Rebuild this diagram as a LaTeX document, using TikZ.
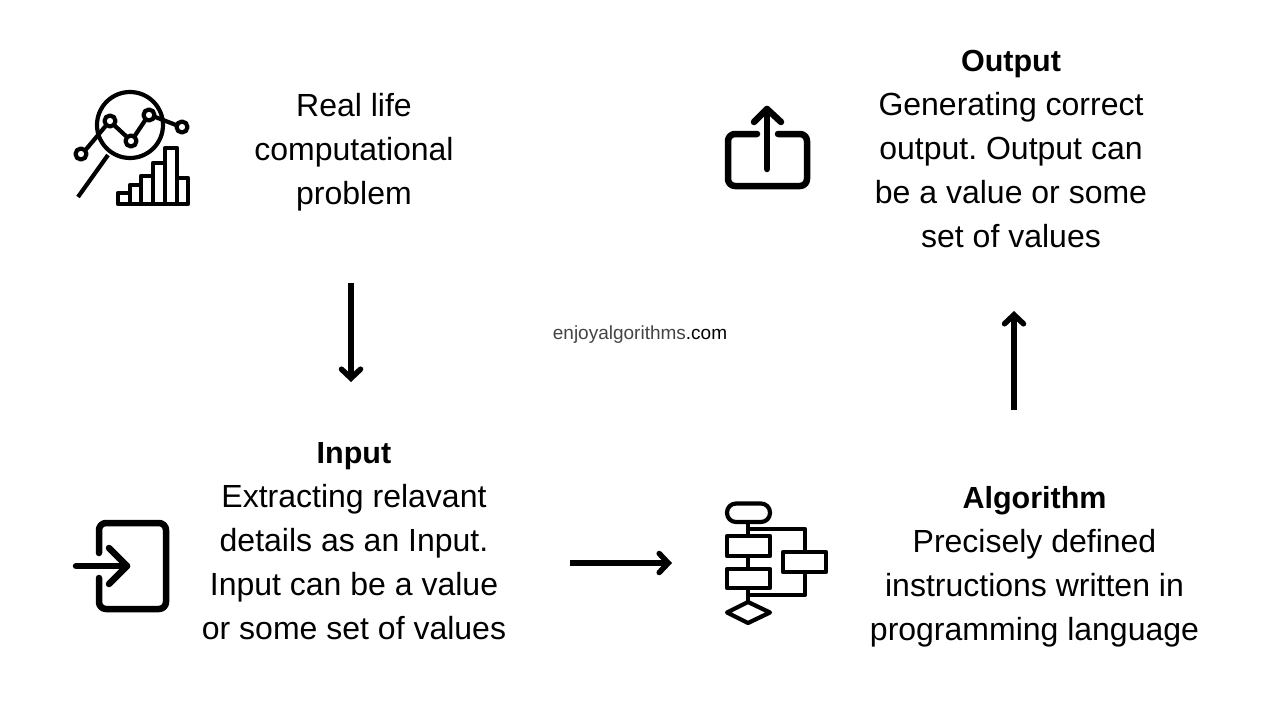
\documentclass[tikz,border=0pt]{standalone}
\usepackage{fontspec}
\usetikzlibrary{arrows.meta}
\setmainfont{Liberation Sans}
\definecolor{markgray}{HTML}{444444}
\newcommand{\blockhead}[1]{{\fontsize{30.5}{44}\selectfont\bfseries #1}}
\tikzset{
    blocktext/.style={align=center,inner sep=0pt,font=\fontsize{32}{44}\selectfont\frenchspacing},
    flowarrow/.style={line width=5.5pt,-{Straight Barb[length=9pt,width=19pt,line width=5.5pt,line cap=round]}},
    iconthin/.style={line width=4.2pt,line join=round},
    iconthick/.style={line width=6.5pt,line cap=round,line join=round}
}
\begin{document}
\begin{tikzpicture}[x=1pt,y=-1pt]
            \useasboundingbox (0,0) rectangle (1280,720);
            \fill[white] (0,0) rectangle (1280,720);
            % texts
            \node[blocktext] (problem) at (354,152) {Real life\\computational\\problem};
            \node[blocktext] (output) at (1011,149.5) {\blockhead{Output}\\Generating correct\\output. Output can\\be a value or some\\set of values};
            \node[blocktext] (input) at (354,541.5) {\blockhead{Input}\\Extracting relavant\\details as an Input.\\Input can be a value\\or some set of values};
            \node[blocktext] (algorithm) at (1034.5,566.5) {\blockhead{Algorithm}\\Precisely defined\\instructions written in\\programming language};
            \node[font=\fontsize{19}{22}\selectfont,inner sep=0pt] (site) at (640,335) {\textcolor{markgray}{enjoyalgorithms}.com};
            % arrows
            \coordinate (problemout) at (351,283);
            \coordinate (inputin) at (351,382);
            \coordinate (inputout) at (570,563);
            \coordinate (algorithmin) at (672,563);
            \coordinate (algorithmout) at (1014,410);
            \coordinate (outputin) at (1014,311);
            \draw[flowarrow] (problemout) -- (inputin);
            \draw[flowarrow] (inputout) -- (algorithmin);
            \draw[flowarrow] (algorithmout) -- (outputin);
            % magnifier and chart icon
            \draw[iconthin] (130,125) circle [radius=33];
            \draw[iconthin] (108,155) -- (78,197);
            \draw[iconthin] (85.5,150) -- (106.5,125);
            \draw[iconthin] (114,125) -- (127.5,137.5);
            \draw[iconthin] (134,137) -- (146,119);
            \draw[iconthin] (154,116.5) -- (176,125);
            \draw[iconthin] (81,154) circle [radius=5.5];
            \draw[iconthin] (110,121) circle [radius=5.5];
            \draw[iconthin] (131,141) circle [radius=5.5];
            \draw[iconthin] (149,115) circle [radius=5.5];
            \draw[iconthin] (182,127) circle [radius=5.5];
            \draw[iconthin] (118,204) rectangle (130,193);
            \draw[iconthin] (130,204) rectangle (141,185);
            \draw[iconthin] (141,204) rectangle (153,176);
            \draw[iconthin] (153,204) rectangle (165,163);
            \draw[iconthin] (165,204) rectangle (177,148);
            \draw[iconthin] (177,204) rectangle (188,178);
            % output icon
            \draw[iconthick,rounded corners=7pt] (757,134) -- (728,134) -- (728,186) -- (807,186) -- (807,134) -- (778,134);
            \draw[iconthick] (767,169) -- (767,109);
            \draw[iconthick] (754,122) -- (767,109) -- (781,122);
            % input icon
            \draw[iconthick,rounded corners=7pt] (99,553) -- (99,523) -- (166,523) -- (166,609) -- (99,609) -- (99,578);
            \draw[iconthick] (76,566) -- (127,566);
            \draw[iconthick] (109,548) -- (127,566) -- (109,584);
            % flowchart icon
            \draw[iconthin,rounded corners=9pt] (727,503.5) rectangle (770,522);
            \draw[iconthin] (727,536) rectangle (770,556);
            \draw[iconthin] (727,569) rectangle (770,588);
            \draw[iconthin] (783,552) rectangle (826,572);
            \draw[iconthin] (748,602) -- (770,612.5) -- (748,623) -- (727,612.5) -- cycle;
            \draw[iconthin] (748,522) -- (748,536);
            \draw[iconthin] (748,556) -- (748,569);
            \draw[iconthin] (748,588) -- (748,602);
            \draw[iconthin] (748,529) -- (805,529) -- (805,552);
            \draw[iconthin] (805,572) -- (805,595) -- (748,595);
        \end{tikzpicture}
\end{document}
